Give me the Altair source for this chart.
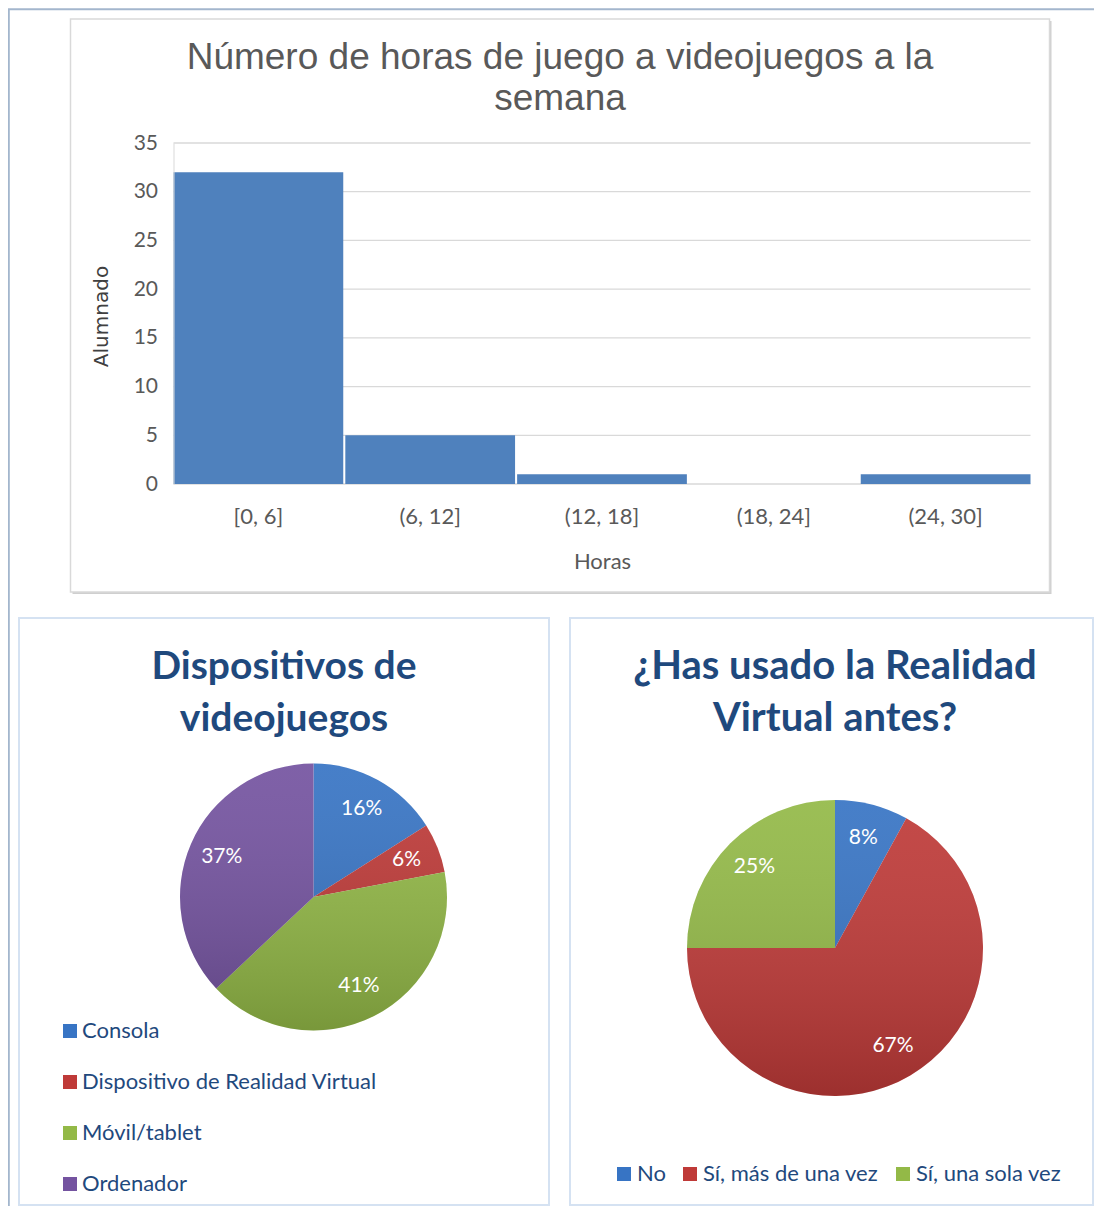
import math
import altair as alt
import pandas as pd

# ---------------- data ----------------
hist_bins = ["[0, 6]", "(6, 12]", "(12, 18]", "(18, 24]", "(24, 30]"]
hist_counts = [32, 5, 1, 0, 1]
y_ticks = [0, 5, 10, 15, 20, 25, 30, 35]

dev_labels = ["Consola", "Dispositivo de Realidad Virtual", "Móvil/tablet", "Ordenador"]
dev_pct = [16, 6, 41, 37]
dev_colors = ["#3774c4", "#bf3a38", "#93b947", "#7453a0"]

vr_labels = ["No", "Sí, más de una vez", "Sí, una sola vez"]
vr_pct = [8, 67, 25]
vr_colors = ["#3774c4", "#bf3a38", "#93b947"]

hist_title = ["Número de horas de juego a videojuegos a la", "semana"]
dev_title = ["Dispositivos de", "videojuegos"]
vr_title = ["¿Has usado la Realidad", "Virtual antes?"]

# ---------------- style ----------------
W, H = 1086, 1198
FONT = "Lato"
TITLE_BLUE = "#1f497d"
GRAY_TEXT = "#595959"
GRID = "#d9d9d9"

blank = alt.Data(values=[{}])


def text_layer(txt, x, y, size, color, font=FONT, weight="normal"):
    return alt.Chart(blank).mark_text(
        fontSize=size, color=color, font=font, fontWeight=weight,
        align="center", baseline="middle"
    ).encode(x=alt.value(x), y=alt.value(y), text=alt.value(txt))


def rect_layer(x1, y1, x2, y2, fill, stroke=None, sw=0):
    kw = dict(fill=fill, strokeWidth=sw)
    if stroke:
        kw["stroke"] = stroke
    return alt.Chart(blank).mark_rect(**kw).encode(
        x=alt.value(x1), x2=alt.value(x2), y=alt.value(y1), y2=alt.value(y2)
    )


def rule_layer(x1, y1, x2, y2, color, sw):
    return alt.Chart(blank).mark_rule(color=color, strokeWidth=sw).encode(
        x=alt.value(x1), x2=alt.value(x2), y=alt.value(y1), y2=alt.value(y2)
    )


# ---------------- frames ----------------
outer_top = rule_layer(0, 1.3, W, 1.3, "#a3b6cd", 2)
outer_left = rule_layer(0.8, 1.3, 0.8, H, "#a3b6cd", 2)
top_shadow = rect_layer(64.5, 13, 1043.5, 586, "#cfcfcf")
top_frame = rect_layer(62.5, 11, 1041.5, 584, "white", "#d9d9d9", 1.5)
bl_frame = rect_layer(11, 610, 541, 1197, "white", "#d5e2f2", 2)
br_frame = rect_layer(562, 610, 1085, 1197, "white", "#d5e2f2", 2)

# ---------------- histogram ----------------
X0, X1 = 165.5, 1022.5
Y0, Y1 = 476, 135

df_hist = pd.DataFrame({"Horas": hist_bins, "Alumnado": hist_counts})
df_ticks = pd.DataFrame({"Alumnado": y_ticks})

y_enc = alt.Y(
    "Alumnado:Q",
    scale=alt.Scale(domain=[0, 35], range=[Y0, Y1], nice=False, zero=True),
    axis=alt.Axis(
        orient="left", offset=-X0, values=y_ticks, grid=False, ticks=False,
        tickSize=0, domain=True, domainColor=GRID, domainWidth=1, zindex=2,
        labelPadding=16, labelFont=FONT, labelFontSize=21, labelColor=GRAY_TEXT,
        title="Alumnado", titleFont="DejaVu Sans", titleFontSize=20,
        titleFontWeight="normal", titleColor="#404040",
        titleX=93 - X0, titleY=308, titleAngle=270,
        titleAlign="center", titleBaseline="middle",
    ),
)

grid = alt.Chart(df_ticks).mark_rule(color=GRID, strokeWidth=1.3).encode(
    y=y_enc, x=alt.value(X0), x2=alt.value(X1)
)

bars = alt.Chart(df_hist).mark_bar(color="#4f81bd").encode(
    x=alt.X(
        "Horas:N", sort=hist_bins,
        scale=alt.Scale(domain=hist_bins, range=[X0, X1], paddingInner=0.012, paddingOuter=0),
        axis=alt.Axis(
            orient="bottom", offset=-(H - Y0), grid=False, ticks=False, tickSize=0,
            domain=False, labelAngle=0, labelPadding=32, labelBaseline="middle", zindex=2,
            labelFont=FONT, labelFontSize=22, labelColor=GRAY_TEXT,
            title="Horas", titleFont=FONT, titleFontSize=22, titleFontWeight="normal",
            titleColor=GRAY_TEXT, titleY=77, titleBaseline="middle",
        ),
    ),
    y=y_enc,
)

hist_t1 = text_layer(hist_title[0], 552, 50, 37, GRAY_TEXT, font="Liberation Sans")
hist_t2 = text_layer(hist_title[1], 552, 91, 37, GRAY_TEXT, font="Liberation Sans")

# ---------------- pies ----------------
def pie(labels, pct, colors, field, cx, cy, R, r_lab, legend):
    df = pd.DataFrame({
        field: labels, "pct": pct, "idx": list(range(len(labels))),
        "lab": [f"{p}%" for p in pct],
    })
    theta = alt.Theta("pct:Q", stack=True)
    arc = alt.Chart(df).mark_arc(radius=R).encode(
        theta=theta,
        order=alt.Order("idx:Q"),
        color=alt.Color(f"{field}:N", scale=alt.Scale(domain=labels, range=colors), legend=legend),
        x=alt.value(cx), y=alt.value(cy),
    )
    shade = alt.Chart(blank).mark_arc(
        radius=R, theta=0, theta2=2 * math.pi,
        color=alt.LinearGradient(
            gradient="linear", x1=0, x2=0, y1=0, y2=1,
            stops=[alt.GradientStop(offset=0, color="rgba(255,255,255,0.08)"),
                   alt.GradientStop(offset=1, color="rgba(0,0,0,0.18)")],
        ),
    ).encode(x=alt.value(cx), y=alt.value(cy))
    labs = alt.Chart(df).mark_text(
        radius=r_lab, fontSize=21, color="white", font=FONT
    ).encode(
        theta=theta, order=alt.Order("idx:Q"), text="lab:N",
        x=alt.value(cx), y=alt.value(cy),
    )
    return alt.layer(arc, shade, labs)


leg1 = alt.Legend(
    orient="none", legendX=51, legendY=1012, direction="vertical", title=None,
    labelFont=FONT, labelFontSize=22, labelColor=TITLE_BLUE, labelLimit=400,
    symbolType="square", symbolSize=196, symbolStrokeWidth=0, rowPadding=29,
    labelOffset=1, padding=0, zindex=2,
)
leg2 = alt.Legend(
    orient="none", legendX=605, legendY=1155, direction="horizontal", title=None,
    labelFont=FONT, labelFontSize=22, labelColor=TITLE_BLUE, labelLimit=400,
    symbolType="square", symbolSize=196, symbolStrokeWidth=0, columnPadding=13,
    labelOffset=2, padding=0, zindex=2,
)

pie1 = pie(dev_labels, dev_pct, dev_colors, "Dispositivo", 305.5, 889, 133.5, 100, leg1)
pie2 = pie(vr_labels, vr_pct, vr_colors, "Respuesta", 827, 940, 148, 114, leg2)

dev_t1 = text_layer(dev_title[0], 276, 659, 39, TITLE_BLUE, weight="bold")
dev_t2 = text_layer(dev_title[1], 276, 711, 39, TITLE_BLUE, weight="bold")
vr_t1 = text_layer(vr_title[0], 827, 659, 40, TITLE_BLUE, weight="bold")
vr_t2 = text_layer(vr_title[1], 827, 711, 40, TITLE_BLUE, weight="bold")

chart = alt.layer(
    outer_top, outer_left, top_shadow, top_frame, bl_frame, br_frame,
    grid, bars, hist_t1, hist_t2,
    pie1, pie2, dev_t1, dev_t2, vr_t1, vr_t2,
).resolve_scale(
    theta="independent", color="independent"
).properties(
    width=W, height=H, padding=0, autosize=alt.AutoSizeParams(type="none"),
    background="white",
).configure_view(stroke=None)

chart.save("out.html", embed_options={"renderer": "svg", "actions": False})
